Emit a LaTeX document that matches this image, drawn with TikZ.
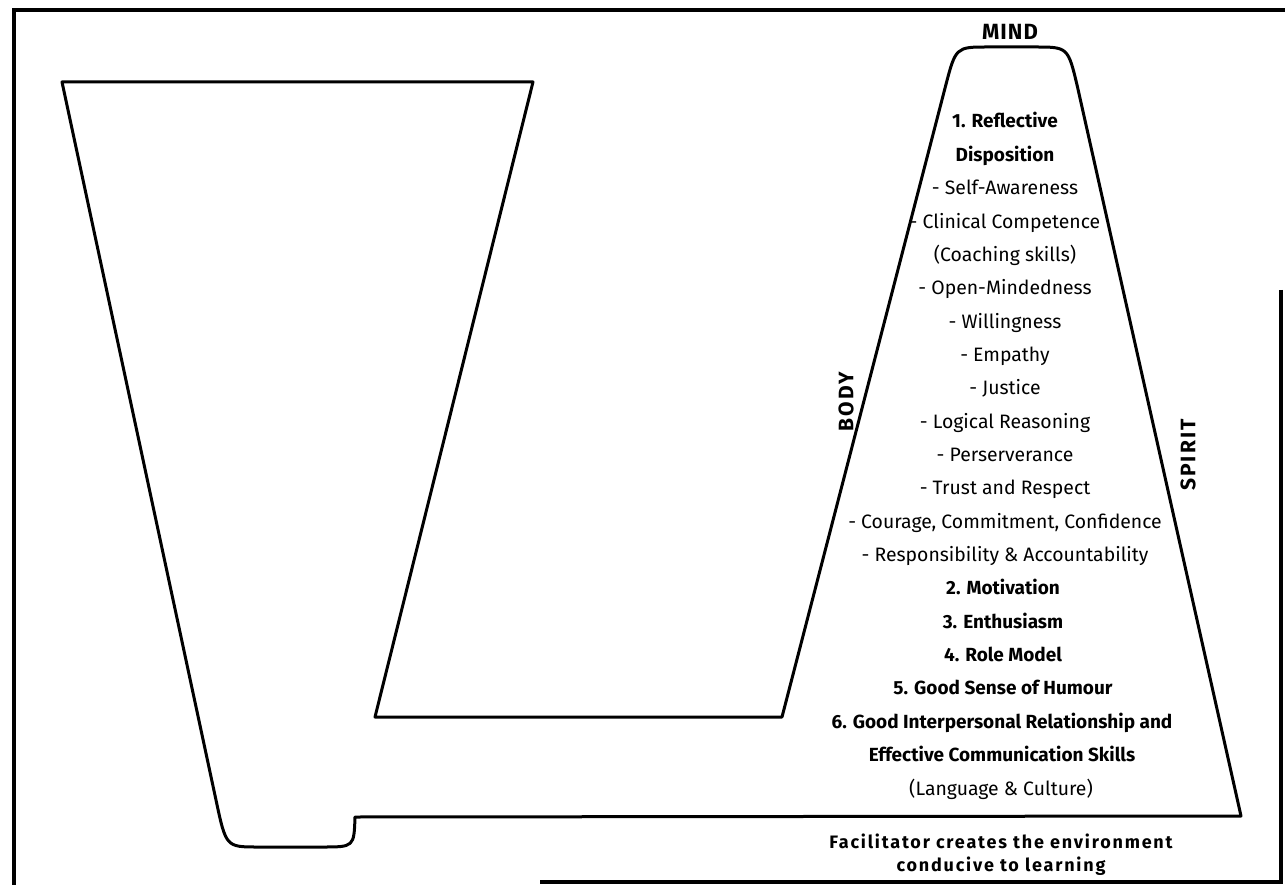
\documentclass[tikz,border=0pt]{standalone}
\usepackage{fontspec}
\setmainfont{Fira Sans}
\begin{document}
\begin{tikzpicture}[x=1pt,y=-1pt,
  shapeline/.style={line width=3pt, line join=round},
  frameline/.style={line width=4.5pt},
  itemtxt/.style={anchor=base, inner sep=0pt, font=\fontsize{19.4}{22}\selectfont},
  itembold/.style={anchor=base, inner sep=0pt, font=\fontsize{19}{22}\selectfont\bfseries},
  sidelabel/.style={inner sep=0pt, rotate=90, font=\fontsize{21}{24}\selectfont\bfseries\addfontfeature{LetterSpace=10}},
  toplabel/.style={anchor=base, inner sep=0pt, font=\fontsize{22}{24}\selectfont\bfseries\addfontfeature{LetterSpace=5}},
  notetxt/.style={anchor=base, inner sep=0pt, font=\fontsize{18}{20}\selectfont\bfseries\addfontfeature{LetterSpace=10}},
]
\useasboundingbox (0,0) rectangle (1285,885);
% frame
\draw[frameline] (14,885) -- (14,10) -- (1285,10);
\draw[frameline] (1281,290) -- (1281,882) -- (540,882);
% outline of funnel and pyramid
\draw[shapeline]
  (533,82) -- (62,82) -- (216,800)
  .. controls (226,847) .. (258,847) -- (322,847)
  .. controls (354,847) .. (355,817)
  -- (1241,816) -- (1077.5,87)
  .. controls (1068,47) .. (1035,47) -- (988,47)
  .. controls (955.7,47) .. (945.3,87)
  -- (782,717) -- (375,717) -- cycle;
% labels
\node[toplabel] (mind) at (1010,40) {MIND};
\node[sidelabel] (body) at (846,402) {BODY};
\node[sidelabel] (spirit) at (1188,455) {SPIRIT};
% list
\node[itembold] (t1) at (1005,128) {1. Reflective};
\node[itembold] (t2) at (1005,161.35) {Disposition};
\node[itemtxt] (t3) at (1005,194.7) {- Self-Awareness};
\node[itemtxt] (t4) at (1005,228.05) {- Clinical Competence};
\node[itemtxt] (t5) at (1005,261.4) {(Coaching skills)};
\node[itemtxt] (t6) at (1005,294.75) {- Open-Mindedness};
\node[itemtxt] (t7) at (1005,328.1) {- Willingness};
\node[itemtxt] (t8) at (1005,361.45) {- Empathy};
\node[itemtxt] (t9) at (1005,394.8) {- Justice};
\node[itemtxt] (t10) at (1005,428.15) {- Logical Reasoning};
\node[itemtxt] (t11) at (1005,461.5) {- Perserverance};
\node[itemtxt] (t12) at (1005,494.85) {- Trust and Respect};
\node[itemtxt] (t13) at (1005,528.2) {- Courage, Commitment, Confidence};
\node[itemtxt] (t14) at (1005,561.55) {- Responsibility \& Accountability};
\node[itembold] (t15) at (1003,594.9) {2. Motivation};
\node[itembold] (t16) at (1003,628.25) {3. Enthusiasm};
\node[itembold] (t17) at (1003,661.6) {4. Role Model};
\node[itembold] (t18) at (1003,694.95) {5. Good Sense of Humour};
\node[itembold] (t19) at (1002,728.3) {6. Good Interpersonal Relationship and};
\node[itembold] (t20) at (1002,761.65) {Effective Communication Skills};
\node[itemtxt] (t21) at (1001,795) {(Language \& Culture)};
% bottom note
\node[notetxt] (n1) at (1001,848) {Facilitator creates the environment};
\node[notetxt] (n2) at (1001,871) {conducive to learning};
\end{tikzpicture}
\end{document}
